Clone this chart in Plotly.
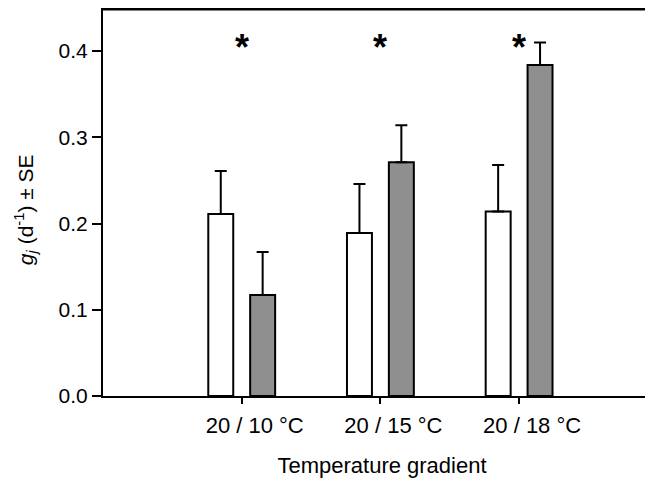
import plotly.graph_objects as go

categories = ["20 / 10 °C", "20 / 15 °C", "20 / 18 °C"]
white_vals = [0.211, 0.189, 0.214]
white_se = [0.050, 0.057, 0.054]
gray_vals = [0.117, 0.271, 0.384]
gray_se = [0.050, 0.043, 0.026]
star_y = [0.41, 0.41, 0.41]
y_ticks = [0.0, 0.1, 0.2, 0.3, 0.4]

FONT = "Liberation Sans, Arial, sans-serif"
W = 0.18

fig = go.Figure()
fig.add_trace(go.Bar(
    x=categories, y=white_vals, width=W, offset=-0.151 - W / 2,
    marker=dict(color="white", line=dict(color="black", width=2)),
    error_y=dict(type="data", array=white_se, symmetric=False, arrayminus=[0, 0, 0],
                 color="black", thickness=2, width=6),
    showlegend=False))
fig.add_trace(go.Bar(
    x=categories, y=gray_vals, width=W, offset=0.151 - W / 2,
    marker=dict(color="#8f8f8f", line=dict(color="black", width=2)),
    error_y=dict(type="data", array=gray_se, symmetric=False, arrayminus=[0, 0, 0],
                 color="black", thickness=2, width=6),
    showlegend=False))

for c, s in zip(categories, star_y):
    fig.add_annotation(x=c, y=s, text="<b>*</b>", showarrow=False,
                       font=dict(size=36, color="black", family=FONT),
                       xanchor="center", yanchor="middle", yshift=-5)

# y-axis title as rotated annotation for precise placement
fig.add_annotation(xref="paper", yref="paper", x=0, y=0.479, xshift=-78,
                   text="<i>g<sub>j</sub></i> (d<sup>-1</sup>) ± SE",
                   textangle=-90, showarrow=False, xanchor="center", yanchor="middle",
                   font=dict(size=21, color="black", family=FONT))

fig.add_shape(type="line", xref="paper", yref="paper", x0=0, x1=1, y0=0.9974, y1=0.9974,
              line=dict(color="black", width=3))

fig.update_layout(
    width=653, height=479,
    margin=dict(l=95, r=0, t=0, b=91),
    plot_bgcolor="white", paper_bgcolor="white",
    barmode="overlay",
    font=dict(family=FONT, size=21, color="black"),
    xaxis=dict(
        type="category", range=[-1, 3.023], automargin=False,
        showline=True, linecolor="black", linewidth=2,
        ticks="outside", ticklen=6, tickwidth=2, tickcolor="black",
        ticklabelshift=13, ticklabelstandoff=3,
        tickfont=dict(size=22),
        showgrid=False, zeroline=False,
        title=dict(text="Temperature gradient", font=dict(size=22), standoff=20),
    ),
    yaxis=dict(
        range=[0, 0.45], tickvals=y_ticks, tickformat=".1f", automargin=False,
        showline=True, linecolor="black", linewidth=2,
        ticks="outside", ticklen=9, tickwidth=2, tickcolor="black",
        tickfont=dict(size=21),
        showgrid=False, zeroline=False,
    ),
)

fig.write_html("out.html")
